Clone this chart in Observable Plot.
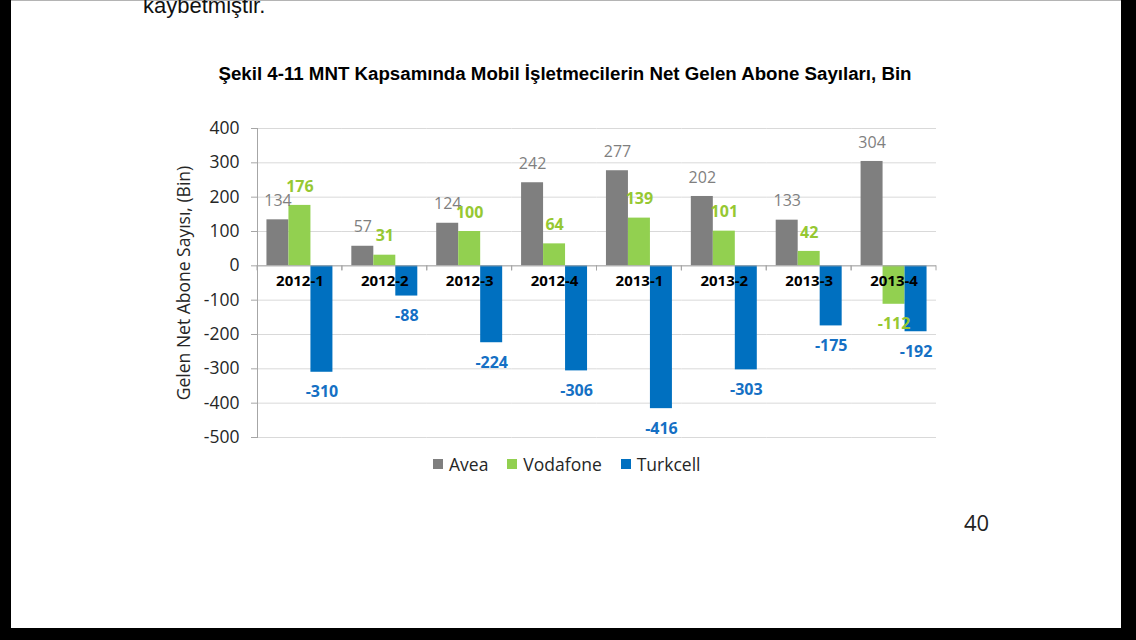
<!DOCTYPE html>
<html>
<head>
<meta charset="utf-8">
<script src="https://cdn.jsdelivr.net/npm/d3@7"></script>
<script src="https://cdn.jsdelivr.net/npm/@observablehq/plot@0.6"></script>
<style>
  html, body { margin: 0; padding: 0; }
  body { width: 1136px; height: 640px; background: #000; overflow: hidden; position: relative; font-family: "Open Sans", sans-serif; }
  #page { position: absolute; left: 11px; top: 0; width: 1110px; height: 628px; background: #fff; border-top: 1px solid #b4b4b4; box-sizing: border-box; }
  #toptext { position: absolute; left: 143px; top: -7px; font: 22px "Liberation Sans", Arial, sans-serif; color: #111; line-height: normal; white-space: nowrap; }
  #title { position: absolute; left: 165px; width: 800px; top: 63px; text-align: center; font: bold 18.7px "Liberation Sans", Arial, sans-serif; line-height: 22px; color: #000; white-space: nowrap; }
  #chart { position: absolute; left: 0; top: 110px; }
  #legend { position: absolute; left: 433px; top: 453px; height: 22px; display: flex; align-items: center; gap: 19px; font: 17.5px "Open Sans", sans-serif; color: #262626; white-space: nowrap; }
  #legend .item { display: flex; align-items: center; }
  #legend .sw { width: 10px; height: 10px; margin-right: 6px; }
  #pnum { position: absolute; left: 964px; top: 511px; font: 22px "Open Sans", sans-serif; line-height: 22px; color: #222; }
</style>
</head>
<body>
<div id="page"></div>
<div id="toptext">kaybetmiştir.</div>
<div id="title">Şekil 4-11 MNT Kapsamında Mobil İşletmecilerin Net Gelen Abone Sayıları, Bin</div>
<div id="chart"></div>
<div id="legend"></div>
<div id="pnum">40</div>
<script>
// ---- data ----
const categories = ["2012-1", "2012-2", "2012-3", "2012-4", "2013-1", "2013-2", "2013-3", "2013-4"];
const series = ["Avea", "Vodafone", "Turkcell"];
const avea = [134, 57, 124, 242, 277, 202, 133, 304];
const vodafone = [176, 31, 100, 64, 139, 101, 42, -112];
const turkcell = [-310, -88, -224, -306, -416, -303, -175, -192];
const yTicks = [-500, -400, -300, -200, -100, 0, 100, 200, 300, 400];

// ---- styles ----
const barColors = ["#7f7f7f", "#92d050", "#0070c0"];
const labelColors = ["#7f7f7f", "#96c832", "#1570c4"];
const labelWeights = ["normal", "bold", "bold"];

const values = [avea, vodafone, turkcell];
const data = [];
categories.forEach((c, i) => series.forEach((s, j) => data.push({cat: c, series: s, value: values[j][i]})));

function boundaryTicks(index, scales, channels, dimensions) {
  const y0 = scales.y(0);
  const xl = dimensions.marginLeft;
  const xr = dimensions.width - dimensions.marginRight;
  const g = document.createElementNS("http://www.w3.org/2000/svg", "g");
  const p = document.createElementNS("http://www.w3.org/2000/svg", "path");
  p.setAttribute("d", `M${xl},${y0}v5M${xr},${y0}v5`);
  p.setAttribute("stroke", "#a6a6a6");
  p.setAttribute("fill", "none");
  g.appendChild(p);
  return g;
}

const labelMarks = [];
series.forEach((s, j) => {
  labelMarks.push(Plot.text(data, {
    filter: d => d.series === s && d.value >= 0,
    fx: "cat", x: "series", y: "value", text: d => String(d.value),
    dy: -19, fill: labelColors[j], fontWeight: labelWeights[j], fontSize: 16
  }));
  labelMarks.push(Plot.text(data, {
    filter: d => d.series === s && d.value < 0,
    fx: "cat", x: "series", y: "value", text: d => String(d.value),
    dy: 20, fill: labelColors[j], fontWeight: labelWeights[j], fontSize: 16
  }));
});

const chart = Plot.plot({
  width: 1136,
  height: 340,
  marginLeft: 257,
  marginRight: 200,
  marginTop: 18,
  marginBottom: 13,
  style: {fontFamily: "Open Sans", background: "transparent", overflow: "visible"},
  fx: {domain: categories, padding: 0, round: false, axis: null},
  x: {domain: series, paddingInner: 0, paddingOuter: 0.43, round: false, axis: null},
  y: {domain: [-500, 400]},
  color: {domain: series, range: barColors},
  marks: [
    Plot.gridY(yTicks, {stroke: "#d9d9d9", strokeOpacity: 1}),
    Plot.barY(data, {fx: "cat", x: "series", y: "value", fill: "series"}),
    Plot.ruleY([0], {stroke: "#a6a6a6"}),
    boundaryTicks,
    Plot.frame({anchor: "left", stroke: "#a6a6a6", facetAnchor: "left"}),
    Plot.axisY({
      ticks: yTicks, tickSize: 6, tickPadding: 12, stroke: "#a6a6a6", fill: "#262626",
      fontSize: 17.5, tickFormat: d => String(d),
      label: "Gelen Net Abone Sayısı, (Bin)", labelAnchor: "center", labelOffset: 80, labelArrow: "none"
    }),
    Plot.text(categories, {fx: d => d, y: () => 0, text: d => d, dy: 15.5, fill: "#000", fontWeight: "bold", fontSize: 15}),
    ...labelMarks
  ]
});
document.getElementById("chart").appendChild(chart);

// legend
const legend = document.getElementById("legend");
series.forEach((s, j) => {
  const item = document.createElement("div");
  item.className = "item";
  const sw = document.createElement("div");
  sw.className = "sw";
  sw.style.background = barColors[j];
  const t = document.createElement("span");
  t.textContent = s;
  item.appendChild(sw);
  item.appendChild(t);
  legend.appendChild(item);
});
</script>
</body>
</html>
